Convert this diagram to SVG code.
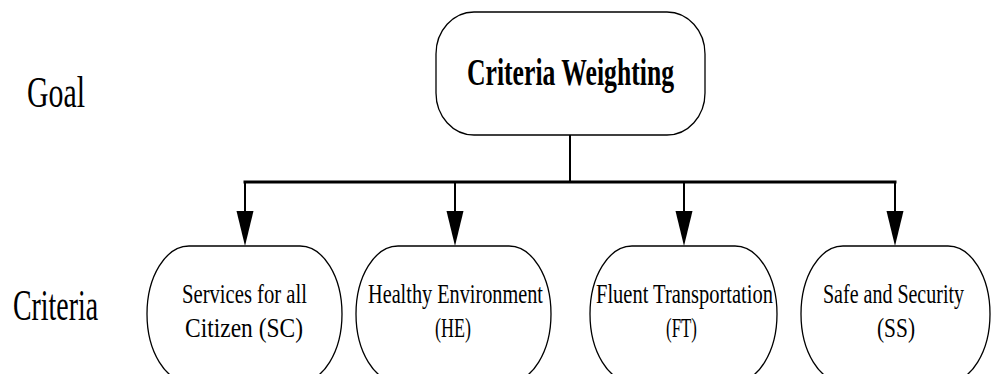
<svg xmlns="http://www.w3.org/2000/svg" width="991" height="374" viewBox="0 0 991 374">
<style>
.node{fill:#fff;stroke:#000;stroke-width:1.3}
.lbl{font-family:"Liberation Serif","Times New Roman",serif;font-size:28px;fill:#000}
.side{font-family:"Liberation Serif","Times New Roman",serif;font-size:44px;fill:#000}
.title{font-family:"Liberation Serif","Times New Roman",serif;font-size:38px;font-weight:bold;fill:#000}
.wire{stroke:#000;fill:none;stroke-linecap:square}
.head{fill:#000;stroke:none}
</style>
<rect width="991" height="374" fill="#fff"/>
<text class="side" x="27" y="107" textLength="58" lengthAdjust="spacingAndGlyphs">Goal</text>
<text class="side" x="13" y="320" textLength="85" lengthAdjust="spacingAndGlyphs">Criteria</text>
<g id="connectors">
<line class="wire" x1="570" y1="135" x2="570" y2="182" stroke-width="2"/>
<line class="wire" x1="245" y1="182" x2="895" y2="182" stroke-width="3"/>
<line class="wire" x1="245" y1="182" x2="245" y2="215" stroke-width="2"/>
<line class="wire" x1="455" y1="182" x2="455" y2="215" stroke-width="2"/>
<line class="wire" x1="684" y1="182" x2="684" y2="215" stroke-width="2"/>
<line class="wire" x1="895" y1="182" x2="895" y2="215" stroke-width="2"/>
<polygon class="head" points="236.5,211 253.5,211 245,246"/>
<polygon class="head" points="446.5,211 463.5,211 455,246"/>
<polygon class="head" points="675.5,211 692.5,211 684,246"/>
<polygon class="head" points="886.5,211 903.5,211 895,246"/>
</g>
<g id="goal">
<rect class="node" x="436" y="12" width="269" height="123" rx="38" ry="42"/>
<text class="title" x="467" y="85" textLength="207" lengthAdjust="spacingAndGlyphs">Criteria Weighting</text>
</g>
<g id="sc">
<rect class="node" x="147" y="246" width="195" height="136" rx="42" ry="68"/>
<text class="lbl" x="182" y="303" textLength="125" lengthAdjust="spacingAndGlyphs">Services for all</text>
<text class="lbl" x="185" y="337" textLength="118" lengthAdjust="spacingAndGlyphs">Citizen (SC)</text>
</g>
<g id="he">
<rect class="node" x="356" y="246" width="195" height="136" rx="42" ry="68"/>
<text class="lbl" x="368" y="303" textLength="175" lengthAdjust="spacingAndGlyphs">Healthy Environment</text>
<text class="lbl" x="435" y="337" textLength="36" lengthAdjust="spacingAndGlyphs">(HE)</text>
</g>
<g id="ft">
<rect class="node" x="590" y="246" width="187" height="136" rx="42" ry="68"/>
<text class="lbl" x="596" y="303" textLength="177" lengthAdjust="spacingAndGlyphs">Fluent Transportation</text>
<text class="lbl" x="666" y="337" textLength="31" lengthAdjust="spacingAndGlyphs">(FT)</text>
</g>
<g id="ss">
<rect class="node" x="801" y="246" width="189" height="136" rx="42" ry="68"/>
<text class="lbl" x="823" y="303" textLength="141" lengthAdjust="spacingAndGlyphs">Safe and Security</text>
<text class="lbl" x="877" y="337" textLength="38" lengthAdjust="spacingAndGlyphs">(SS)</text>
</g>
</svg>
